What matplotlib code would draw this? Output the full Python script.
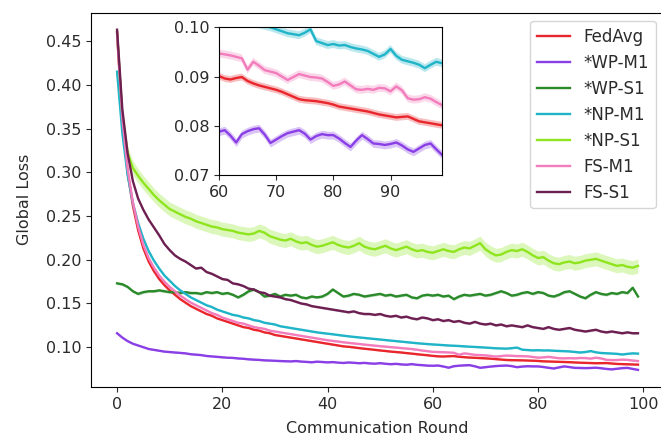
import matplotlib
matplotlib.use("Agg")
import matplotlib.pyplot as plt
import numpy as np

# global loss per communication round (mean over runs)
rounds = list(range(100))

fedavg = [0.460, 0.360, 0.300, 0.262, 0.234, 0.213, 0.198, 0.187, 0.178, 0.171,
          0.165, 0.160, 0.155, 0.151, 0.147, 0.144, 0.141, 0.138, 0.136, 0.133,
          0.131, 0.129, 0.127, 0.125, 0.123, 0.122, 0.120, 0.119, 0.117, 0.116,
          0.114, 0.113, 0.112, 0.111, 0.110, 0.109, 0.108, 0.107, 0.106, 0.105,
          0.104, 0.103, 0.102, 0.101, 0.1005, 0.0998, 0.0990, 0.0983, 0.0977, 0.0970,
          0.0963, 0.0957, 0.0950, 0.0945, 0.0940, 0.0933, 0.0927, 0.0920, 0.0914, 0.0908,
          0.0901, 0.0896, 0.0894, 0.0897, 0.0899, 0.0891, 0.0886, 0.0882, 0.0879, 0.0876,
          0.0873, 0.0869, 0.0864, 0.0859, 0.0854, 0.0852, 0.0851, 0.0850, 0.0848, 0.0846,
          0.0843, 0.0839, 0.0837, 0.0835, 0.0833, 0.0831, 0.0829, 0.0826, 0.0823, 0.0821,
          0.0819, 0.0817, 0.0818, 0.0819, 0.0814, 0.0809, 0.0807, 0.0805, 0.0803, 0.0801]

wp_m1 = [0.116, 0.111, 0.107, 0.104, 0.102, 0.100, 0.098, 0.097, 0.096, 0.095,
         0.0945, 0.094, 0.0935, 0.093, 0.092, 0.0915, 0.091, 0.090, 0.0895, 0.089,
         0.0885, 0.088, 0.0878, 0.0872, 0.0868, 0.0862, 0.0858, 0.0855, 0.0850, 0.0848,
         0.0845, 0.0842, 0.0840, 0.0838, 0.0842, 0.0836, 0.0832, 0.0828, 0.0835, 0.0831,
         0.0827, 0.0830, 0.0824, 0.0820, 0.0826, 0.0822, 0.0817, 0.0821, 0.0815, 0.0812,
         0.0818, 0.0811, 0.0806, 0.0810, 0.0804, 0.0800, 0.0807, 0.0799, 0.0795, 0.0790,
         0.0788, 0.0791, 0.0780, 0.0766, 0.0783, 0.0789, 0.0793, 0.0795, 0.0782, 0.0765,
         0.0772, 0.0779, 0.0785, 0.0788, 0.0791, 0.0784, 0.0772, 0.0779, 0.0783, 0.0781,
         0.0781, 0.0774, 0.0765, 0.0757, 0.0770, 0.0781, 0.0773, 0.0764, 0.0763, 0.0761,
         0.0763, 0.0766, 0.0760, 0.0752, 0.0747, 0.0754, 0.0761, 0.0764, 0.0752, 0.0741]

wp_s1 = [0.173, 0.172, 0.169, 0.164, 0.161, 0.163, 0.164, 0.164, 0.165, 0.164,
         0.163, 0.163, 0.162, 0.163, 0.162, 0.162, 0.161, 0.163, 0.162, 0.163,
         0.161, 0.162, 0.160, 0.157, 0.160, 0.164, 0.166, 0.163, 0.158, 0.159,
         0.161, 0.158, 0.160, 0.159, 0.160, 0.157, 0.156, 0.158, 0.157, 0.158,
         0.161, 0.166, 0.162, 0.158, 0.159, 0.161, 0.160, 0.158, 0.159, 0.160,
         0.161, 0.159, 0.160, 0.158, 0.159, 0.160, 0.157, 0.156, 0.159, 0.160,
         0.159, 0.160, 0.158, 0.159, 0.155, 0.158, 0.160, 0.159, 0.160, 0.161,
         0.159, 0.160, 0.162, 0.164, 0.162, 0.159, 0.160, 0.162, 0.163, 0.161,
         0.163, 0.162, 0.159, 0.158, 0.160, 0.163, 0.164, 0.161, 0.158, 0.156,
         0.160, 0.163, 0.161, 0.160, 0.162, 0.161, 0.163, 0.162, 0.168, 0.158]

np_m1 = [0.415, 0.345, 0.297, 0.265, 0.242, 0.224, 0.210, 0.199, 0.190, 0.182,
         0.176, 0.170, 0.165, 0.161, 0.157, 0.154, 0.151, 0.148, 0.146, 0.143,
         0.141, 0.139, 0.137, 0.136, 0.134, 0.133, 0.131, 0.130, 0.128, 0.127,
         0.126, 0.124, 0.123, 0.122, 0.121, 0.120, 0.119, 0.118, 0.117, 0.1162,
         0.1155, 0.1148, 0.1140, 0.1132, 0.1125, 0.1118, 0.1112, 0.1106, 0.1100, 0.1094,
         0.1088, 0.1082, 0.1076, 0.1070, 0.1064, 0.1058, 0.1052, 0.1046, 0.1041, 0.1036,
         0.1032, 0.1028, 0.1024, 0.1020, 0.1017, 0.1014, 0.1010, 0.1006, 0.1003, 0.1000,
         0.0996, 0.0992, 0.0988, 0.0986, 0.0984, 0.0989, 0.0996, 0.0972, 0.0968, 0.0964,
         0.0966, 0.0963, 0.0964, 0.0960, 0.0957, 0.0955, 0.0952, 0.0946, 0.0940, 0.0945,
         0.0956, 0.0942, 0.0934, 0.0931, 0.0928, 0.0924, 0.0917, 0.0924, 0.0930, 0.0927]

np_s1 = [0.460, 0.365, 0.322, 0.305, 0.296, 0.288, 0.281, 0.274, 0.268, 0.263,
         0.258, 0.255, 0.252, 0.249, 0.247, 0.244, 0.242, 0.240, 0.238, 0.237,
         0.235, 0.234, 0.233, 0.231, 0.230, 0.229, 0.230, 0.233, 0.231, 0.227,
         0.225, 0.223, 0.222, 0.224, 0.221, 0.219, 0.220, 0.217, 0.215, 0.216,
         0.218, 0.220, 0.217, 0.215, 0.214, 0.216, 0.219, 0.215, 0.213, 0.212,
         0.214, 0.216, 0.213, 0.211, 0.213, 0.215, 0.212, 0.210, 0.211, 0.209,
         0.208, 0.210, 0.212, 0.210, 0.209, 0.212, 0.214, 0.213, 0.216, 0.219,
         0.212, 0.208, 0.205, 0.206, 0.209, 0.211, 0.210, 0.212, 0.209, 0.205,
         0.202, 0.203, 0.199, 0.196, 0.195, 0.197, 0.198, 0.196, 0.197, 0.199,
         0.200, 0.201, 0.199, 0.197, 0.195, 0.193, 0.194, 0.192, 0.191, 0.193]

fs_m1 = [0.458, 0.362, 0.304, 0.266, 0.238, 0.217, 0.202, 0.191, 0.182, 0.175,
         0.169, 0.164, 0.159, 0.155, 0.151, 0.148, 0.145, 0.142, 0.139, 0.137,
         0.134, 0.132, 0.130, 0.128, 0.127, 0.125, 0.123, 0.122, 0.121, 0.119,
         0.118, 0.117, 0.116, 0.115, 0.114, 0.113, 0.112, 0.111, 0.110, 0.109,
         0.108, 0.1072, 0.1065, 0.1057, 0.1050, 0.1043, 0.1037, 0.1030, 0.1024, 0.1018,
         0.1012, 0.1007, 0.1001, 0.0996, 0.0990, 0.0985, 0.0979, 0.0972, 0.0962, 0.0955,
         0.0947, 0.0945, 0.0943, 0.0940, 0.0937, 0.0914, 0.0930, 0.0922, 0.0913, 0.0910,
         0.0907, 0.0900, 0.0893, 0.0899, 0.0905, 0.0902, 0.0899, 0.0898, 0.0896, 0.0889,
         0.0881, 0.0884, 0.0890, 0.0882, 0.0874, 0.0873, 0.0875, 0.0873, 0.0877, 0.0876,
         0.0870, 0.0880, 0.0872, 0.0856, 0.0853, 0.0854, 0.0858, 0.0855, 0.0848, 0.0842]

fs_s1 = [0.463, 0.372, 0.322, 0.290, 0.270, 0.257, 0.246, 0.237, 0.228, 0.218,
         0.211, 0.205, 0.201, 0.198, 0.194, 0.190, 0.191, 0.186, 0.184, 0.181,
         0.178, 0.177, 0.173, 0.172, 0.170, 0.167, 0.166, 0.163, 0.162, 0.159,
         0.158, 0.157, 0.155, 0.154, 0.152, 0.150, 0.149, 0.147, 0.146, 0.145,
         0.144, 0.143, 0.142, 0.141, 0.140, 0.141, 0.139, 0.138, 0.138, 0.137,
         0.138, 0.136, 0.135, 0.136, 0.134, 0.135, 0.133, 0.132, 0.134, 0.133,
         0.131, 0.132, 0.130, 0.131, 0.129, 0.130, 0.128, 0.127, 0.129, 0.127,
         0.126, 0.127, 0.125, 0.126, 0.124, 0.125, 0.124, 0.123, 0.125, 0.123,
         0.122, 0.121, 0.123, 0.121, 0.120, 0.121, 0.122, 0.120, 0.119, 0.118,
         0.119, 0.120, 0.118, 0.117, 0.118, 0.117, 0.116, 0.117, 0.116, 0.116]

labels = ["FedAvg", "*WP-M1", "*WP-S1", "*NP-M1", "*NP-S1", "FS-M1", "FS-S1"]
series = [fedavg, wp_m1, wp_s1, np_m1, np_s1, fs_m1, fs_s1]
# half-width of the shaded band around each mean curve
spread = [0.0007, 0.0008, 0.0015, 0.0008, 0.008, 0.0008, 0.0012]
colors = ["#e8262c", "#8a3fe6", "#2a8a2a", "#1fb4c8", "#8ee51e", "#f37cbc", "#6d1f52"]

plt.rcParams["font.size"] = 11.5
plt.rcParams["text.color"] = "#2b2b2b"
plt.rcParams["axes.labelcolor"] = "#2b2b2b"
plt.rcParams["xtick.color"] = "#2b2b2b"
plt.rcParams["ytick.color"] = "#2b2b2b"

fig = plt.figure(figsize=(6.61, 4.42), dpi=100)
ax = fig.add_axes([0.1377, 0.1244, 0.8669, 0.8469])
ins = fig.add_axes([0.3313, 0.6041, 0.3374, 0.3341])

x = np.array(rounds)
for vals, lab, col, sd in zip(series, labels, colors, spread):
    y = np.array(vals)
    for a in (ax, ins):
        a.plot(x, y, color=col, lw=1.7, label=lab if a is ax else None)
        a.fill_between(x, y - sd, y + sd, color=col, alpha=0.3, lw=0)

ax.set_xlim(-4.95, 103.95)
ax.set_ylim(0.0545, 0.4825)
ax.set_xticks([0, 20, 40, 60, 80, 100])
ax.set_yticks([0.10, 0.15, 0.20, 0.25, 0.30, 0.35, 0.40, 0.45])
ax.set_xlabel("Communication Round", labelpad=7)
ax.set_ylabel("Global Loss", labelpad=10)
ax.legend(loc="upper right", fontsize=12, labelspacing=0.48)

ins.set_xlim(60, 99)
ins.set_ylim(0.07, 0.10)
ins.set_xticks([60, 70, 80, 90])
ins.set_yticks([0.07, 0.08, 0.09, 0.10])

fig.savefig("out.png", dpi=100)
